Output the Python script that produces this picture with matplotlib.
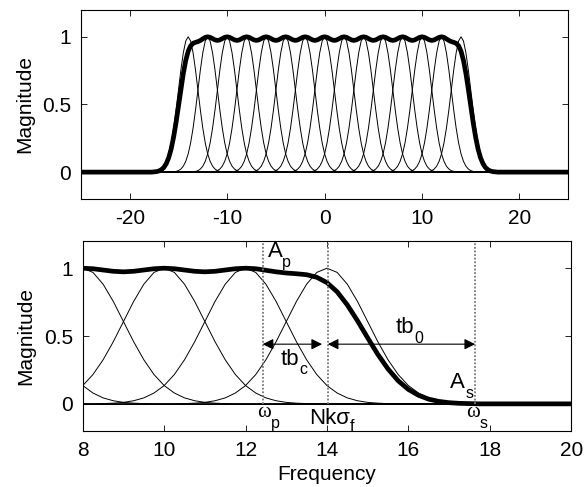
import numpy as np
import matplotlib
matplotlib.use('Agg')
import matplotlib.pyplot as plt

plt.rcParams['font.family'] = ['Liberation Sans', 'DejaVu Sans']
plt.rcParams['axes.unicode_minus'] = False

# channel centres (frequency)
centers = [-14, -12, -10, -8, -6, -4, -2, 0, 2, 4, 6, 8, 10, 12, 14]
# single channel response, sampled every 0.25 from its centre outwards (0 .. 3.5)
step = 0.25
half_profile = [1.000, 0.969, 0.882, 0.755, 0.607, 0.458, 0.325, 0.216,
                0.135, 0.080, 0.044, 0.023, 0.011, 0.005, 0.002]
profile = np.array(half_profile[::-1] + half_profile[1:])

# markers in the bottom panel
w_p = 12.42
nk_sigma = 14.02
w_s = 17.64
arrow_y = 0.44

# frequency grid
freq = np.arange(-25, 25 + step / 2, step)
chans = []
for c in centers:
    y = np.zeros_like(freq)
    i0 = int(round((c - freq[0]) / step)) - (len(half_profile) - 1)
    y[i0:i0 + len(profile)] = profile
    chans.append(y)
chans = np.array(chans)
total = chans.sum(axis=0)
total = total / total.max()

fig = plt.figure(figsize=(5.87, 4.87), dpi=100)
ax1 = fig.add_axes([0.138, 0.591, 0.830, 0.389])
ax2 = fig.add_axes([0.141, 0.115, 0.832, 0.390])

for ax in (ax1, ax2):
    for y in chans:
        ax.plot(freq, y, color='k', lw=0.7)
    ax.plot(freq, total, color='k', lw=3.4)
    ax.set_ylim(-0.2, 1.2)
    ax.set_yticks([0, 0.5, 1])
    ax.set_yticklabels(['0', '0.5', '1'])
    ax.set_ylabel('Magnitude', fontsize=15, labelpad=6)
    ax.tick_params(direction='in', top=True, right=True, labelsize=15,
                   length=4, width=0.6, pad=7)
    for s in ax.spines.values():
        s.set_linewidth(0.8)

ax1.set_xlim(-25, 25)
ax1.set_xticks([-20, -10, 0, 10, 20])

ax2.set_xlim(8, 20)
ax2.set_xticks([8, 10, 12, 14, 16, 18, 20])
ax2.set_xlabel('Frequency', fontsize=15, labelpad=4)

ax2.vlines([w_p, nk_sigma, w_s], 0, 1.2, colors='#777777', linestyles=(0, (1, 1)), lw=1.3)

ax2.annotate('', xy=(nk_sigma - 0.14, arrow_y), xytext=(w_p, arrow_y),
             arrowprops=dict(arrowstyle='<|-|>', color='k', lw=0.8,
                             mutation_scale=16, shrinkA=0, shrinkB=0))
ax2.annotate('', xy=(w_s, arrow_y), xytext=(nk_sigma, arrow_y),
             arrowprops=dict(arrowstyle='<|-|>', color='k', lw=0.8,
                             mutation_scale=16, shrinkA=0, shrinkB=0))


def label(x, y, main, sub, size=16, family=None, dx=0.0, dy=-0.07):
    kw = {} if family is None else {'family': family}
    t = ax2.text(x, y, main, fontsize=size, **kw)
    fig.canvas.draw()
    bb = t.get_window_extent().transformed(ax2.transData.inverted())
    ax2.text(bb.x1 + dx, y + dy, sub, fontsize=11.5)


label(12.54, 1.08, 'A', 'p')
label(15.69, 0.52, 'tb', '0')
label(12.86, 0.29, 'tb', 'c')
label(17.03, 0.115, 'A', 's')
label(12.28, -0.10, 'ω', 'p', size=15, family='Liberation Serif', dy=-0.08)
label(13.56, -0.15, 'Nkσ', 'f', dy=-0.05)
label(17.42, -0.10, 'ω', 's', size=15, family='Liberation Serif', dy=-0.08)

fig.savefig('out.png', dpi=100)
